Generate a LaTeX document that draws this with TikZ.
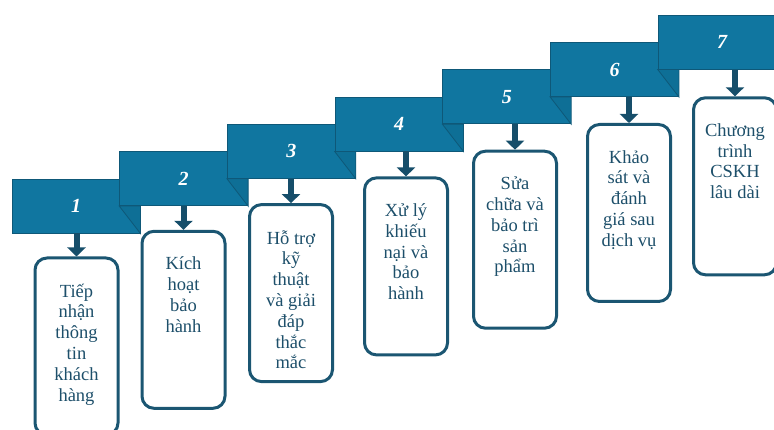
\documentclass[tikz,border=0pt]{standalone}
\usepackage{fontspec}
\setmainfont{Liberation Serif}
\usetikzlibrary{arrows.meta,positioning}

\definecolor{stepblue}{HTML}{1076A0}
\definecolor{stepedge}{HTML}{0E5878}
\definecolor{folddark}{HTML}{0E6F96}
\definecolor{arrowblue}{HTML}{164E6A}
\definecolor{cardedge}{HTML}{1B5672}
\definecolor{cardink}{HTML}{1D4F6A}

\begin{document}
\begin{tikzpicture}[x=1pt, y=-1pt,
    stepbar/.style={rectangle, draw=stepedge, line width=0.8pt, fill=stepblue, minimum width=128pt, minimum height=54pt, inner sep=0pt, text=white, font=\fontsize{20}{20}\selectfont\bfseries\itshape},
    stepcard/.style={rectangle, rounded corners=12pt, draw=cardedge, line width=3pt, minimum width=83pt, minimum height=177pt},
    cardlabel/.style={text=cardink, align=center, inner sep=0pt, anchor=north, font=\fontsize{18.5}{20.8}\selectfont},
    downarrow/.style={draw=arrowblue, line width=6pt, -{Triangle[width=18pt,length=9pt]}},
    fold/.style={fill=folddark, draw=stepedge, line width=0.8pt}]
    \useasboundingbox (0,0) rectangle (774,430);

    % Step headers, climbing to the right
    \node[stepbar] (hdr1) at (76,206) {1};
    \node[stepbar] (hdr2) at (183.7,178.7) {2};
    \node[stepbar] (hdr3) at (291.4,151.4) {3};
    \node[stepbar] (hdr4) at (399.1,124.1) {4};
    \node[stepbar] (hdr5) at (506.8,96.8) {5};
    \node[stepbar] (hdr6) at (614.5,69.5) {6};
    \node[stepbar] (hdr7) at (722.2,42.2) {7};

    % Folded corners under each next header
    \foreach \a/\b in {1/2,2/3,3/4,4/5,5/6,6/7} {
        \filldraw[fold] (hdr\b.south west) -- (hdr\a.south east) -- (hdr\a.south east |- hdr\b.south) -- cycle;
    }

    % Boxes below the headers
    \node[stepcard] (box1) at (76.5,346.5) {};
    \node[stepcard] (box2) at (183.5,319.8) {};
    \node[stepcard] (box3) at (291,293.1) {};
    \node[stepcard] (box4) at (406,266.4) {};
    \node[stepcard] (box5) at (515,239.7) {};
    \node[stepcard] (box6) at (629,213) {};
    \node[stepcard] (box7) at (735,186.3) {};

    % Texts in the boxes
    \node[cardlabel, below=27pt of box1.north] (txt1) {Tiếp\\nhận\\thông\\tin\\khách\\hàng};
    \node[cardlabel, below=27pt of box2.north] (txt2) {Kích\\hoạt\\bảo\\hành};
    \node[cardlabel, below=27pt of box3.north] (txt3) {Hỗ trợ\\kỹ\\thuật\\và giải\\đáp\\thắc\\mắc};
    \node[cardlabel, below=27pt of box4.north] (txt4) {Xử lý\\khiếu\\nại và\\bảo\\hành};
    \node[cardlabel, below=27pt of box5.north] (txt5) {Sửa\\chữa và\\bảo trì\\sản\\phẩm};
    \node[cardlabel, below=27pt of box6.north] (txt6) {Khảo\\sát và\\đánh\\giá sau\\dịch vụ};
    \node[cardlabel, below=27pt of box7.north] (txt7) {Chương\\trình\\CSKH\\lâu dài};

    % Arrows from headers to boxes
    \foreach \i in {1,...,7} {
        \draw[downarrow] (box\i.north |- hdr\i.south) -- (box\i.north);
    }
\end{tikzpicture}
\end{document}
